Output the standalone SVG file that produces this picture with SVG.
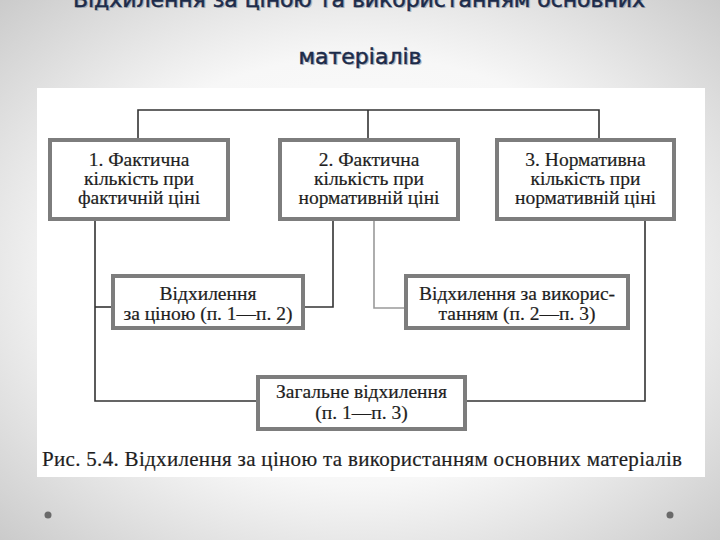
<svg xmlns="http://www.w3.org/2000/svg" width="720" height="540" viewBox="0 0 720 540">
<defs>
<radialGradient id="bg" cx="50%" cy="50%" r="72%">
<stop offset="0" stop-color="#ffffff"/>
<stop offset="0.55" stop-color="#f7f7f7"/>
<stop offset="1" stop-color="#c9c9c9"/>
</radialGradient>
<style>
.title{font-family:"DejaVu Sans",sans-serif;font-size:22px;fill:#1c2b4a;stroke:#1c2b4a;stroke-width:0.5;text-anchor:middle}
.shadow{font-family:"DejaVu Sans",sans-serif;font-size:22px;fill:#8c93a0;opacity:0.6;text-anchor:middle}
.box{fill:#ffffff;stroke:#7d7d7d;stroke-width:4}
.t{font-family:"Liberation Serif","Times New Roman",serif;font-size:19.5px;fill:#1e1e1e;stroke:#1e1e1e;stroke-width:0.2;text-anchor:middle}
.cap{font-family:"Liberation Serif","Times New Roman",serif;font-size:21px;fill:#1e1e1e;stroke:#1e1e1e;stroke-width:0.2}
.ln{fill:none;stroke:#333;stroke-width:1.6}
.lg{fill:none;stroke:#9a9a9a;stroke-width:1.6}
</style>
</defs>
<rect x="0" y="0" width="720" height="540" fill="url(#bg)"/>
<text class="shadow" x="360.5" y="8" textLength="572">Відхилення за ціною та використанням основних</text>
<text class="title" x="359" y="7" textLength="572">Відхилення за ціною та використанням основних</text>
<text class="shadow" x="361.5" y="65">матеріалів</text>
<text class="title" x="360" y="64">матеріалів</text>
<rect x="37" y="88" width="668" height="389" fill="#ffffff"/>
<g id="connectors">
<polyline class="ln" points="138,138 138,110 599,110 599,138"/>
<line class="ln" x1="368" y1="110" x2="368" y2="138"/>
<polyline class="ln" points="95,221 95,401 256,401"/>
<line class="ln" x1="95" y1="307" x2="111" y2="307"/>
<polyline class="ln" points="333,221 333,307 305,307"/>
<polyline class="lg" points="374,221 374,308 404,308"/>
<polyline class="ln" points="645,221 645,401 467,401"/>
</g>
<g id="n1">
<rect class="box" x="50" y="140" width="178" height="79"/>
<text class="t" x="139" y="166">1. Фактична</text>
<text class="t" x="139" y="185">кількість при</text>
<text class="t" x="139" y="204">фактичній ціні</text>
</g>
<g id="n2">
<rect class="box" x="280" y="140" width="178" height="79"/>
<text class="t" x="369" y="166">2. Фактична</text>
<text class="t" x="369" y="185">кількість при</text>
<text class="t" x="369" y="204">нормативній ціні</text>
</g>
<g id="n3">
<rect class="box" x="497" y="140" width="177" height="79"/>
<text class="t" x="585.5" y="166">3. Нормативна</text>
<text class="t" x="585.5" y="185">кількість при</text>
<text class="t" x="585.5" y="204">нормативній ціні</text>
</g>
<g id="n4">
<rect class="box" x="113" y="276" width="190" height="52"/>
<text class="t" x="208" y="300">Відхилення</text>
<text class="t" x="208" y="320">за ціною (п. 1—п. 2)</text>
</g>
<g id="n5">
<rect class="box" x="406" y="276" width="222" height="52"/>
<text class="t" x="517" y="300">Відхилення за викорис-</text>
<text class="t" x="517" y="320">танням (п. 2—п. 3)</text>
</g>
<g id="n6">
<rect class="box" x="258" y="377" width="207" height="52"/>
<text class="t" x="361.5" y="398">Загальне відхилення</text>
<text class="t" x="361.5" y="419">(п. 1—п. 3)</text>
</g>
<text class="cap" x="42" y="466" textLength="640">Рис. 5.4. Відхилення за ціною та використанням основних матеріалів</text>
<circle cx="48" cy="515" r="3.5" fill="#6a6a6a"/>
<circle cx="670" cy="515" r="3.5" fill="#6a6a6a"/>
</svg>
